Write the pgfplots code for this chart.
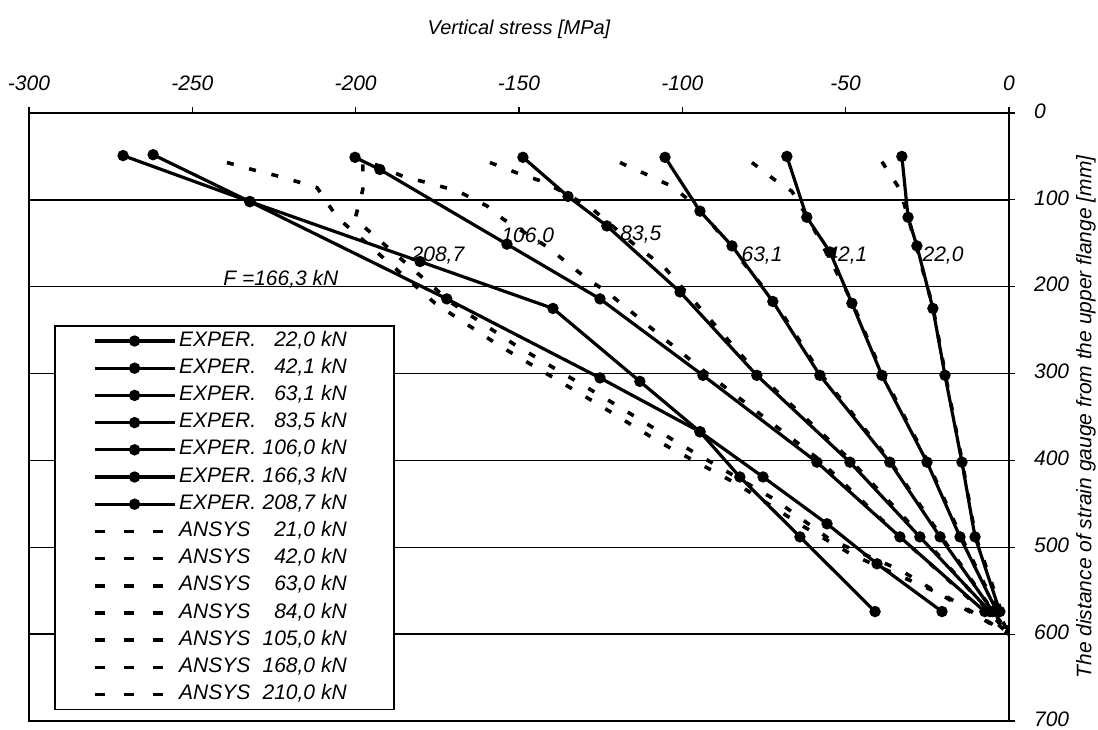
\documentclass[border=0pt]{standalone}
\usepackage{pgfplots}
\pgfplotsset{compat=1.18}
\usepackage{fontspec}
\setmainfont{Liberation Sans}

\newcommand{\ent}[3]{\makebox[106pt][l]{\makebox[41pt][l]{#1}\makebox[27pt][r]{#2} #3}}

\begin{document}
\begin{tikzpicture}[font=\itshape]
\useasboundingbox (-14.5pt,-4pt) rectangle (534.5pt,360.5pt);
\begin{axis}[
  at={(0pt,0pt)}, anchor=south west,
  scale only axis, width=490pt, height=304pt,
  xmin=-300, xmax=0, ymin=0, ymax=700, y dir=reverse,
  xtick={-300,-250,...,0}, ytick={0,100,...,700},
  xticklabel pos=right, xtick pos=right,
  yticklabel pos=right, ytick pos=right,
  tick align=outside, major tick length=3pt,
  tick style={black, line width=0.6pt},
  ymajorgrids, grid style={black, line width=0.7pt},
  axis line style={line width=1pt},
  /pgf/number format/assume math mode=true,
  tick label style={font=\fontsize{10.5}{12}\selectfont\itshape},
  xticklabel style={yshift=4.5pt},
  yticklabel style={xshift=6pt, yshift=1pt},
  xlabel={Vertical stress [MPa]},
  xlabel style={at={(axis description cs:0.5,1.138)}, anchor=center, font=\fontsize{10}{12}\selectfont\itshape},
  ylabel={The distance of strain gauge from the upper flange [mm]},
  ylabel style={at={(axis description cs:1.0786,0.5)}, anchor=center, font=\fontsize{10.5}{12}\selectfont\itshape},
  clip=true,
  exper/.style={black, line width=1.6pt, mark=*, mark size=2pt, mark options={solid}},
  ansys/.style={black, line width=1.8pt, dash pattern=on 3.5pt off 8pt, mark=none,
    legend image code/.code={%
      \path (0pt,0pt);
      \draw[##1,dash pattern=on 5pt off 9.5pt] (19pt,0pt) -- (57pt,0pt);
    }},
  legend image code/.code={%
    \path (0pt,0pt);
    \draw[#1,mark=none] (19pt,0pt) -- (59pt,0pt);
    \draw[#1,only marks] plot coordinates {(39pt,0pt)};
  },
  legend cell align=left,
  legend style={at={(axis description cs:0.0255,0.651)}, anchor=north west,
    draw=black, line width=0.8pt, fill=white, inner xsep=0pt, inner ysep=1pt,
    row sep=0.6pt, font=\fontsize{10.5}{12}\selectfont\itshape,
    nodes={inner xsep=1.5pt, inner ysep=1.5pt, text height=7.5pt, text depth=2.5pt}},
]
% EXPER. measured
\addplot[exper] coordinates {(-32.8,50) (-30.9,120) (-28.2,153) (-23.3,225) (-19.6,302) (-14.4,402) (-10.4,488) (-2.8,574)};
\addlegendentry{\ent{EXPER.}{22,0}{kN}}
\addplot[exper] coordinates {(-68.0,50) (-61.9,120) (-54.8,160) (-48.1,219) (-38.9,302) (-25.1,402) (-15.0,488) (-3.7,574)};
\addlegendentry{\ent{EXPER.}{42,1}{kN}}
\addplot[exper] coordinates {(-105.3,51) (-94.6,113) (-84.8,153) (-72.3,217) (-57.9,302) (-36.5,402) (-21.1,488) (-4.9,574)};
\addlegendentry{\ent{EXPER.}{63,1}{kN}}
\addplot[exper] coordinates {(-148.8,51) (-135.0,96) (-123.1,130) (-100.7,206) (-77.2,302) (-48.7,402) (-27.3,488) (-5.8,574)};
\addlegendentry{\ent{EXPER.}{83,5}{kN}}
\addplot[exper] coordinates {(-200.2,51) (-192.6,65) (-153.7,151) (-125.2,214) (-93.7,302) (-58.8,402) (-33.4,488) (-7.4,574)};
\addlegendentry{\ent{EXPER.}{106,0}{kN}}
\addplot[exper] coordinates {(-262.0,48) (-232.4,102) (-172.1,214) (-125.2,305) (-94.6,367) (-82.4,419) (-64.0,488) (-41.0,574)};
\addlegendentry{\ent{EXPER.}{166,3}{kN}}
\addplot[exper] coordinates {(-271.2,49) (-232.4,102) (-180.3,171) (-139.6,225) (-113.0,309) (-94.6,367) (-75.3,419) (-55.7,473) (-40.4,519) (-20.5,574)};
\addlegendentry{\ent{EXPER.}{208,7}{kN}}
% ANSYS
\addplot[ansys] coordinates {(-38.9,56) (-33.4,88) (-30.9,120) (-23.3,223) (-19.6,299) (-14.4,400) (-10.4,485) (0,600)};
\addlegendentry{\ent{ANSYS}{21,0}{kN}}
\addplot[ansys] coordinates {(-78.7,57) (-71.7,77) (-66.5,90) (-60.9,125) (-48.1,217) (-38.9,299) (-25.1,400) (-15.0,485) (0,600)};
\addlegendentry{\ent{ANSYS}{42,0}{kN}}
\addplot[ansys] coordinates {(-119.1,57) (-110.8,71) (-102.9,85) (-94.6,111) (-72.3,214) (-57.9,299) (-36.5,400) (-21.2,485) (0,600)};
\addlegendentry{\ent{ANSYS}{63,0}{kN}}
\addplot[ansys] coordinates {(-158.9,57) (-150.6,69) (-142.7,79) (-135.0,94) (-127.4,111) (-113.9,154) (-105.9,176) (-77.2,299) (-48.7,399) (-27.3,485) (0,600)};
\addlegendentry{\ent{ANSYS}{84,0}{kN}}
\addplot[ansys] coordinates {(-194.1,59) (-185.5,73) (-176.3,82) (-168.7,90) (-159.8,107) (-154.9,122) (-141.4,154) (-129.8,189) (-123.1,206) (-93.7,296) (-58.8,397) (-33.4,488) (0,600)};
\addlegendentry{\ent{ANSYS}{105,0}{kN}}
\addplot[ansys] coordinates {(-197.8,59) (-197.8,88) (-200.2,122) (-170.5,219) (-151.2,267) (-122.5,331) (-101.7,379) (-71.7,445) (-54.8,491) (-33.4,526) (-13.5,571) (0,600)};
\addlegendentry{\ent{ANSYS}{168,0}{kN}}
\addplot[ansys] coordinates {(-239.4,57) (-230.8,66) (-222.3,74) (-211.8,86) (-205.7,120) (-175.7,219) (-156.4,267) (-127.7,331) (-106.9,379) (-83.3,427) (-62.5,477) (-47.8,509) (-19.0,557) (0,600)};
\addlegendentry{\ent{ANSYS}{210,0}{kN}}
% load labels
\node[font=\fontsize{10.5}{12}\selectfont\itshape] at (axis cs:-147.3,141.7) {106,0};
\node[font=\fontsize{10.5}{12}\selectfont\itshape] at (axis cs:-112.7,139.4) {83,5};
\node[font=\fontsize{10.5}{12}\selectfont\itshape] at (axis cs:-75.6,164.6) {63,1};
\node[font=\fontsize{10.5}{12}\selectfont\itshape] at (axis cs:-49.6,164.6) {42,1};
\node[font=\fontsize{10.5}{12}\selectfont\itshape] at (axis cs:-20.2,164.6) {22,0};
\node[font=\fontsize{10.5}{12}\selectfont\itshape] at (axis cs:-174.8,164.6) {208,7};
\node[font=\fontsize{10.5}{12}\selectfont\itshape] at (axis cs:-222.9,190.9) {F =166,3 kN};
\end{axis}
\end{tikzpicture}
\end{document}
